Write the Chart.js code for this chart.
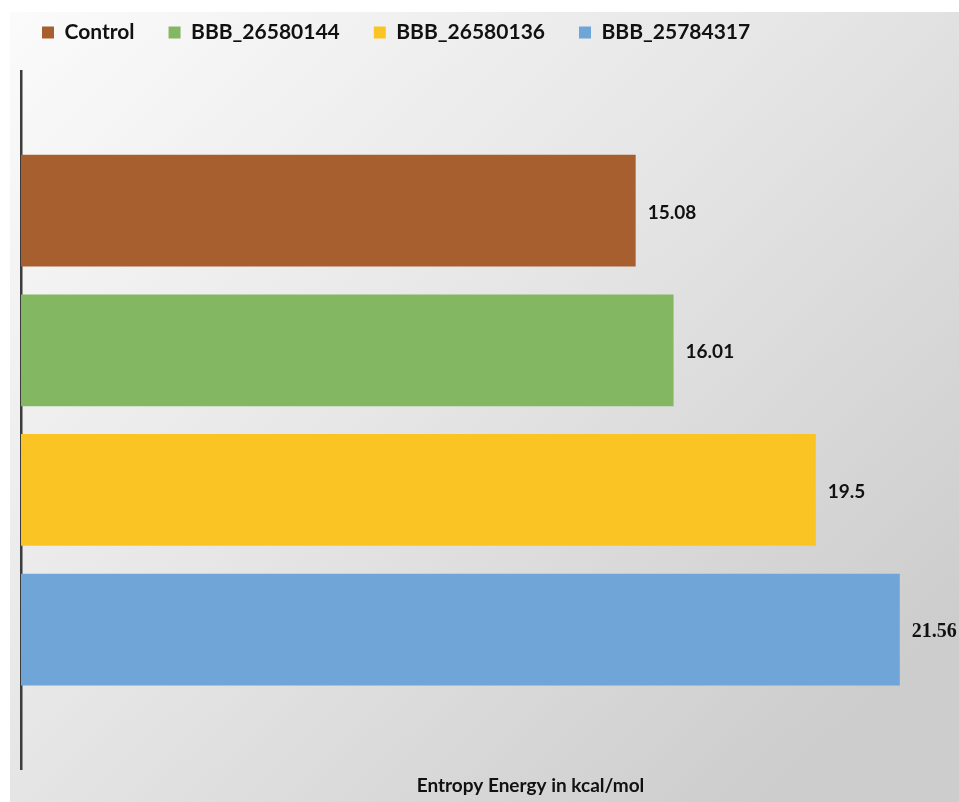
<!DOCTYPE html>
<html>
<head>
<meta charset="utf-8">
<script src="https://cdn.jsdelivr.net/npm/chart.js@4/dist/chart.umd.min.js"></script>
<style>
  html, body { margin: 0; padding: 0; background: #ffffff; overflow: hidden; }
  #wrap { width: 959px; height: 802px; position: relative; overflow: hidden; }
  #c { position: absolute; left: 0; top: 0; }
</style>
</head>
<body>
<div id="wrap"><canvas id="c" width="1040" height="802"></canvas></div>
<script>
const seriesNames = ['Control', 'BBB_26580144', 'BBB_26580136', 'BBB_25784317'];
const seriesValues = [15.08, 16.01, 19.5, 21.56];
const seriesColors = ['#A85F2F', '#84B762', '#FBC425', '#6FA5D7'];
const categories = [''];
const axisTitle = 'Entropy Energy in kcal/mol';

const bgPlugin = {
  id: 'bg',
  beforeDraw(chart) {
    const ctx = chart.ctx;
    ctx.save();
    ctx.fillStyle = '#ffffff';
    ctx.fillRect(0, 0, chart.width, chart.height);
    const g = ctx.createLinearGradient(10, 12, 760, 802);
    g.addColorStop(0, '#fbfbfb');
    g.addColorStop(0.5, '#e6e6e6');
    g.addColorStop(1, '#cdcdcd');
    ctx.fillStyle = g;
    ctx.fillRect(10, 12, chart.width - 10, chart.height - 12);
    ctx.restore();
  }
};

const labelPlugin = {
  id: 'barLabels',
  afterDatasetsDraw(chart) {
    const ctx = chart.ctx;
    ctx.save();
    chart.data.datasets.forEach((ds, i) => {
      const meta = chart.getDatasetMeta(i);
      meta.data.forEach((el, j) => {
        const v = ds.data[j];
        ctx.font = (i === 3) ? 'bold 20px "Liberation Serif"' : 'bold 19px Lato';
        ctx.fillStyle = '#111111';
        ctx.textAlign = 'left';
        ctx.textBaseline = 'middle';
        ctx.fillText(String(v), el.x + 12, el.y + 2);
      });
    });
    ctx.restore();
  }
};

const datasets = seriesNames.map((name, i) => ({
  label: name,
  data: [seriesValues[i]],
  backgroundColor: seriesColors[i],
  borderWidth: 0,
  categoryPercentage: 0.8,
  barPercentage: 0.8
}));

new Chart(document.getElementById('c'), {
  type: 'bar',
  data: { labels: categories, datasets },
  options: {
    indexAxis: 'y',
    responsive: false,
    animation: false,
    devicePixelRatio: 1,
    layout: { padding: { top: -12, left: 8, right: 0, bottom: 1 } },
    plugins: {
      legend: {
        position: 'top',
        align: 'start',
        labels: {
          boxWidth: 12,
          boxHeight: 12,
          padding: 34,
          color: '#111111',
          font: { family: 'Lato', weight: 'bold', size: 21 }
        }
      },
      tooltip: { enabled: false }
    },
    scales: {
      x: {
        min: 0,
        max: 25,
        ticks: { display: false },
        grid: { display: false, drawTicks: false },
        border: { display: false },
        title: {
          display: true,
          text: axisTitle,
          color: '#111111',
          font: { family: 'Lato', weight: 'bold', size: 19 },
          padding: { top: 5, bottom: 4 }
        }
      },
      xTop: {
        type: 'linear',
        position: 'top',
        display: true,
        ticks: { display: false },
        grid: { display: false, drawTicks: false },
        border: { display: false },
        afterFit(s) { s.height = 18; }
      },
      y: {
        ticks: { display: false },
        grid: { display: false, drawTicks: false },
        border: { display: true, color: '#3c3c3c', width: 2.5 },
        afterFit(s) { s.width = 13; }
      }
    }
  },
  plugins: [bgPlugin, labelPlugin]
});
</script>
</body>
</html>
